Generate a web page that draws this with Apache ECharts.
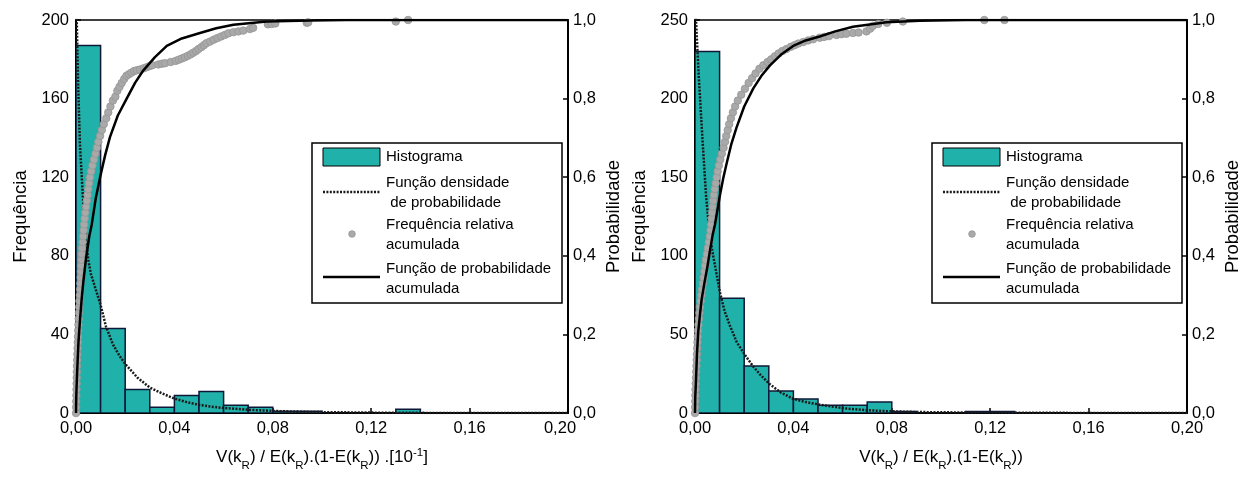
<!DOCTYPE html>
<html>
<head>
<meta charset="utf-8">
<script src="https://cdn.jsdelivr.net/npm/echarts@6/dist/echarts.min.js"></script>
<style>html,body{margin:0;padding:0;background:#fff}#c{width:1243px;height:477px}</style>
</head>
<body>
<div id="c"></div>
<script>
// ---------- DATA ----------
// Histogram bins (start, end) and counts — left chart
const leftBinStart = [0.00,0.01,0.02,0.03,0.04,0.05,0.06,0.07,0.08,0.09,0.13];
const leftBinEnd   = [0.01,0.02,0.03,0.04,0.05,0.06,0.07,0.08,0.09,0.10,0.14];
const leftCounts   = [187,43,12,3,9,11,4,3,1,1,2];
// Histogram — right chart
const rightBinStart = [0.00,0.01,0.02,0.03,0.04,0.05,0.06,0.07,0.08,0.11,0.12];
const rightBinEnd   = [0.01,0.02,0.03,0.04,0.05,0.06,0.07,0.08,0.09,0.12,0.13];
const rightCounts   = [230,73,30,14,9,5,5,7,1,1,1];

// Probability density function (in frequency units)
const leftPdfX = [0.0001,0.0003,0.0008,0.0016,0.0027,0.004,0.005,0.006,0.008,0.010,0.0122,0.015,0.0175,0.020,0.025,0.030,0.035,0.040,0.045,0.050,0.055,0.060,0.070,0.080,0.090,0.10,0.12,0.14,0.16,0.18,0.20];
const leftPdfY = [230,200,170,137,112,88,78,71,63,55,44,35,29.5,25,18,13,10,7.4,5.6,4.2,3.3,2.6,1.7,1.1,0.7,0.5,0.25,0.12,0.06,0.03,0.02];
const rightPdfX = [0.0001,0.0004,0.0015,0.003,0.0045,0.006,0.0074,0.0101,0.012,0.0142,0.017,0.0203,0.0235,0.0264,0.0304,0.035,0.0399,0.045,0.0507,0.0615,0.070,0.078,0.090,0.10,0.12,0.14,0.16,0.18,0.20];
const rightPdfY = [290,250,215,175,138,113,100,77,65,55.6,45,37,30,24.6,18.4,13,9.1,7,5.4,2.9,1.8,1.2,0.7,0.5,0.3,0.2,0.1,0.05,0.03];

// Cumulative distribution function
const leftCdfX = [0,0.0001,0.0002,0.0005,0.001,0.0016,0.0023,0.003,0.004,0.0054,0.0064,0.008,0.0098,0.0118,0.0138,0.017,0.0206,0.024,0.0274,0.032,0.0369,0.043,0.0504,0.057,0.064,0.0775,0.095,0.11,0.20];
const leftCdfY = [0,0.04,0.06,0.11,0.18,0.235,0.29,0.335,0.39,0.45,0.48,0.545,0.60,0.655,0.702,0.757,0.80,0.84,0.872,0.905,0.934,0.953,0.967,0.979,0.988,0.996,0.999,1.0,1.0];
const rightCdfX = [0,0.0001,0.0004,0.0008,0.0013,0.002,0.0027,0.0038,0.005,0.006,0.0072,0.0081,0.0101,0.0115,0.0129,0.0148,0.0169,0.020,0.0237,0.027,0.0304,0.035,0.0399,0.045,0.0507,0.057,0.0642,0.0778,0.0913,0.11,0.20];
const rightCdfY = [0,0.04,0.082,0.15,0.206,0.25,0.289,0.33,0.371,0.41,0.454,0.479,0.553,0.598,0.636,0.685,0.727,0.78,0.826,0.858,0.884,0.912,0.934,0.948,0.958,0.971,0.983,0.994,0.998,1.0,1.0];

// Empirical cumulative relative frequency
const leftEmpX = [0,0.00005,0.0001,0.00015,0.0002,0.00025,0.0003,0.00035,0.0004,0.00048,0.00056,0.00064,0.00072,0.0008,0.0009,0.001,0.0011,0.0012,0.0013,0.0014,0.0016,0.0017,0.0018,0.0019,0.0020,0.0021,0.0022,0.0023,0.0025,0.0027,0.0029,0.0031,0.0033,0.0035,0.0038,0.0041,0.0044,0.0047,0.005,0.0053,0.0057,0.0062,0.0067,0.0073,0.0079,0.0085,0.0091,0.0098,0.0105,0.0113,0.0123,0.0131,0.014,0.015,0.016,0.0168,0.0177,0.0186,0.0196,0.0205,0.0215,0.0225,0.0236,0.0247,0.026,0.0275,0.0288,0.030,0.031,0.0335,0.035,0.0362,0.0385,0.0405,0.0418,0.043,0.0442,0.0455,0.0467,0.0477,0.0488,0.0498,0.051,0.052,0.053,0.0545,0.056,0.0575,0.059,0.0605,0.062,0.064,0.066,0.068,0.0707,0.072,0.078,0.0795,0.081,0.0938,0.0944,0.130,0.135];
const leftEmpY = [0,0.015,0.03,0.045,0.06,0.075,0.09,0.105,0.12,0.135,0.15,0.165,0.18,0.195,0.21,0.225,0.24,0.255,0.27,0.285,0.30,0.315,0.33,0.345,0.36,0.375,0.39,0.405,0.42,0.435,0.45,0.465,0.48,0.495,0.51,0.525,0.54,0.555,0.57,0.585,0.60,0.615,0.63,0.645,0.66,0.675,0.69,0.705,0.72,0.735,0.75,0.765,0.78,0.795,0.805,0.82,0.83,0.84,0.85,0.858,0.862,0.866,0.87,0.872,0.874,0.877,0.88,0.883,0.885,0.887,0.889,0.89,0.893,0.896,0.899,0.902,0.905,0.909,0.913,0.917,0.921,0.926,0.931,0.936,0.941,0.945,0.95,0.954,0.958,0.962,0.966,0.969,0.971,0.973,0.977,0.98,0.989,0.99,0.991,0.993,0.994,0.996,1.0];
const rightEmpX = [0,0.00005,0.0001,0.00015,0.0002,0.0003,0.0004,0.0005,0.0006,0.0007,0.0008,0.0009,0.001,0.0011,0.0012,0.0014,0.0016,0.0018,0.002,0.0023,0.0026,0.0029,0.0032,0.0035,0.0038,0.0041,0.0044,0.0048,0.0052,0.0056,0.006,0.0063,0.0065,0.0068,0.007,0.0072,0.0074,0.0077,0.008,0.0084,0.0088,0.0092,0.0097,0.0103,0.0109,0.0116,0.0122,0.0127,0.0133,0.0139,0.0146,0.0154,0.0163,0.0174,0.0188,0.0203,0.0218,0.0232,0.0246,0.0262,0.0278,0.0295,0.031,0.0325,0.034,0.0355,0.0372,0.039,0.0405,0.042,0.044,0.046,0.048,0.0507,0.0525,0.0545,0.0575,0.0595,0.0615,0.0642,0.0665,0.0697,0.0712,0.0723,0.0745,0.078,0.0845,0.1176,0.1258];
const rightEmpY = [0,0.015,0.03,0.045,0.06,0.075,0.09,0.105,0.12,0.135,0.15,0.165,0.18,0.195,0.21,0.225,0.24,0.255,0.27,0.285,0.30,0.315,0.33,0.345,0.36,0.375,0.39,0.405,0.42,0.435,0.45,0.465,0.48,0.495,0.51,0.525,0.54,0.555,0.57,0.585,0.60,0.615,0.63,0.645,0.66,0.675,0.69,0.705,0.72,0.735,0.75,0.765,0.78,0.795,0.81,0.825,0.84,0.852,0.864,0.876,0.885,0.893,0.90,0.908,0.915,0.921,0.926,0.932,0.936,0.94,0.944,0.948,0.951,0.955,0.957,0.959,0.962,0.964,0.965,0.967,0.968,0.971,0.978,0.985,0.99,0.993,0.996,1.0,1.0];

// Tick settings
const xTicks = {min: 0, max: 0.20, interval: 0.04};
const leftFreqTicks = {min: 0, max: 200, interval: 40};
const rightFreqTicks = {min: 0, max: 250, interval: 50};
const probTicks = {min: 0, max: 1, interval: 0.2};

// ---------- OPTION ----------
const FONT = 'Liberation Sans, Arial, sans-serif';
const TEAL = '#20B2AA';
const zip = (a, b) => a.map((v, i) => [v, b[i]]);
const hist = (s, e, c) => s.map((v, i) => [v, e[i], c[i]]);

function renderBar(params, api) {
  const p0 = api.coord([api.value(0), 0]);
  const p1 = api.coord([api.value(1), api.value(2)]);
  return {
    type: 'rect',
    shape: {x: p0[0], y: p1[1], width: p1[0] - p0[0], height: p0[1] - p1[1]},
    style: {fill: TEAL, stroke: '#0d1838', lineWidth: 1.5}
  };
}

const labelStyle = {color: '#000', fontFamily: FONT, fontSize: 16.5};
const axisLine = {show: true, onZero: false, lineStyle: {color: '#000', width: 2}};
const axisTick = {show: true, inside: true, length: 5, lineStyle: {color: '#000', width: 1.5}};

function xAxisDef(gridIndex, nameStr, shiftLast) {
  return {
    type: 'value', gridIndex, ...xTicks,
    axisLine, axisTick, splitLine: {show: false},
    axisLabel: {
      ...labelStyle, margin: 7,
      formatter: v => {
        const s = v.toFixed(2).replace('.', ',');
        return (shiftLast && Math.abs(v - 0.2) < 1e-9) ? '{e|' + s + '}' : s;
      },
      rich: {e: {fontFamily: FONT, fontSize: 16.5, color: '#000', padding: [0, 16, 0, 0]}}
    },
    name: nameStr, nameLocation: 'middle', nameGap: 26,
    nameTextStyle: {
      color: '#000', fontFamily: FONT,
      rich: {
        m: {fontFamily: FONT, fontSize: 17, lineHeight: 20, color: '#000'},
        s: {fontFamily: FONT, fontSize: 11.5, lineHeight: 12, color: '#000', padding: [18, 0, 0, 0]},
        p: {fontFamily: FONT, fontSize: 11.5, lineHeight: 12, color: '#000', padding: [0, 0, 8, 0]}
      }
    }
  };
}
function freqAxis(gridIndex, ticks) {
  return {
    type: 'value', gridIndex, position: 'left', ...ticks,
    axisLine, axisTick, splitLine: {show: false},
    axisLabel: {...labelStyle, margin: 7},
    name: 'Frequência', nameLocation: 'middle', nameGap: 46, nameRotate: 90,
    nameTextStyle: {color: '#000', fontFamily: FONT, fontSize: 18.5}
  };
}
function probAxis(gridIndex) {
  return {
    type: 'value', gridIndex, position: 'right', ...probTicks,
    axisLine, axisTick, splitLine: {show: false},
    axisLabel: {...labelStyle, margin: 5, formatter: v => v.toFixed(1).replace('.', ',')},
    name: 'Probabilidade', nameLocation: 'middle', nameGap: 36, nameRotate: 90,
    nameTextStyle: {color: '#000', fontFamily: FONT, fontSize: 18.5}
  };
}

const xNameLeft = '{m|V(k}{s|R}{m|) / E(k}{s|R}{m|).(1-E(k}{s|R}{m|)) .[10}{p|-1}{m|]}';
const xNameRight = '{m|V(k}{s|R}{m|) / E(k}{s|R}{m|).(1-E(k}{s|R}{m|))}';

function seriesFor(k, xIdx, yFreq, yProb, bins, pdf, emp, cdf) {
  return [
    {type: 'custom', name: 'Histograma' + k, xAxisIndex: xIdx, yAxisIndex: yFreq, data: bins,
     renderItem: renderBar, encode: {x: [0, 1], y: 2}, clip: true, z: 1, silent: true},
    {type: 'line', xAxisIndex: xIdx, yAxisIndex: yFreq, data: pdf, showSymbol: false, symbol: 'none',
     smooth: false, clip: true, z: 3, silent: true,
     lineStyle: {color: '#1a1a1a', width: 2.5, type: [2, 1.4]}},
    {type: 'scatter', xAxisIndex: xIdx, yAxisIndex: yProb, data: emp, symbolSize: 7.5, z: 4, silent: true,
     itemStyle: {color: '#a9a9a9', borderColor: '#959595', borderWidth: 0.8, opacity: 1}},
    {type: 'line', xAxisIndex: xIdx, yAxisIndex: yProb, data: cdf, showSymbol: false, symbol: 'none',
     smooth: false, z: 5, silent: true,
     lineStyle: {color: '#000', width: 2.5, join: 'round'}}
  ];
}

function legendGroup(dx) {
  const t = (x, y, txt) => ({type: 'text', x: x + dx, y: y,
    style: {text: txt, fill: '#000', fontFamily: FONT, fontSize: 15, lineHeight: 20,
            verticalAlign: 'middle', align: 'left'}});
  return {
    type: 'group', z: 100,
    children: [
      {type: 'rect', shape: {x: 312 + dx, y: 143, width: 250, height: 160},
       style: {fill: '#fff', stroke: '#000', lineWidth: 1.5}},
      {type: 'rect', shape: {x: 323 + dx, y: 148, width: 57, height: 18},
       style: {fill: TEAL, stroke: '#000', lineWidth: 1}},
      t(386, 157, 'Histograma'),
      {type: 'line', shape: {x1: 323 + dx, y1: 192, x2: 380 + dx, y2: 192},
       style: {stroke: '#1a1a1a', lineWidth: 2.5, lineDash: [2, 1.4]}},
      t(386, 193, 'Função densidade\n de probabilidade'),
      {type: 'circle', shape: {cx: 352 + dx, cy: 234, r: 3.3},
       style: {fill: '#a9a9a9', stroke: '#959595', lineWidth: 0.8}},
      t(386, 235, 'Frequência relativa\nacumulada'),
      {type: 'line', shape: {x1: 323 + dx, y1: 277, x2: 380 + dx, y2: 277},
       style: {stroke: '#000', lineWidth: 2.5}},
      t(386, 279, 'Função de probabilidade\nacumulada')
    ]
  };
}

const option = {
  animation: false,
  backgroundColor: '#fff',
  grid: [
    {left: 76, top: 20, width: 492, height: 403, show: true, borderColor: '#000', borderWidth: 1.5, backgroundColor: 'transparent'},
    {left: 695, top: 20, width: 493, height: 403, show: true, borderColor: '#000', borderWidth: 1.5, backgroundColor: 'transparent'}
  ],
  xAxis: [xAxisDef(0, xNameLeft, true), xAxisDef(1, xNameRight, false)],
  yAxis: [freqAxis(0, leftFreqTicks), probAxis(0), freqAxis(1, rightFreqTicks), probAxis(1)],
  series: [
    ...seriesFor('L', 0, 0, 1, hist(leftBinStart, leftBinEnd, leftCounts), zip(leftPdfX, leftPdfY), zip(leftEmpX, leftEmpY), zip(leftCdfX, leftCdfY)),
    ...seriesFor('R', 1, 2, 3, hist(rightBinStart, rightBinEnd, rightCounts), zip(rightPdfX, rightPdfY), zip(rightEmpX, rightEmpY), zip(rightCdfX, rightCdfY))
  ],
  graphic: [legendGroup(0), legendGroup(620)]
};

const chart = echarts.init(document.getElementById('c'), null, {renderer: 'canvas'});
chart.setOption(option);
</script>
</body>
</html>
